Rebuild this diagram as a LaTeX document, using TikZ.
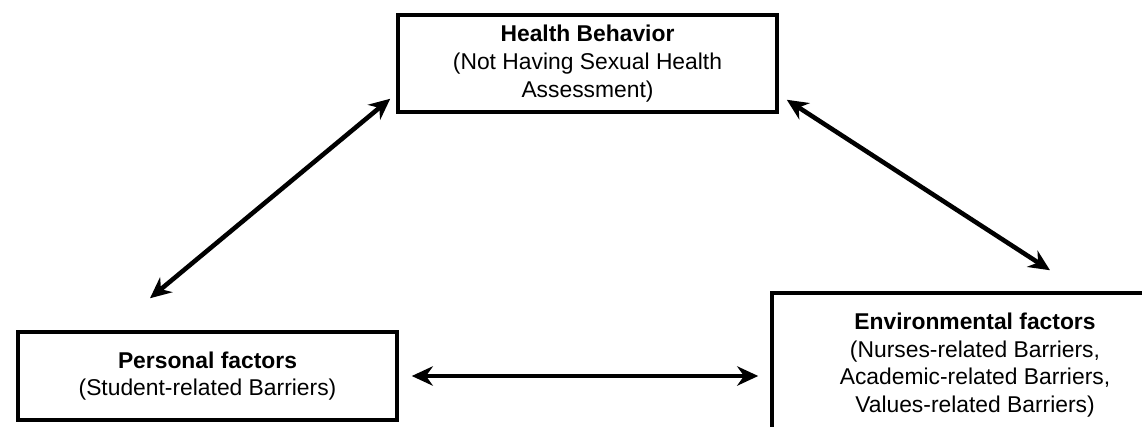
\documentclass[tikz,border=0pt]{standalone}
\usepackage{fontspec}
\setmainfont{Liberation Sans}
\usetikzlibrary{arrows.meta, positioning}
\tikzset{
>={Stealth[length=12pt, width=11pt]}, % solid arrow heads
factor/.style={draw=black, line width=2pt, align=center, inner sep=0pt,
  font=\fontsize{13}{15.8}\selectfont}, % every box
link/.style={<->, line width=2.6pt}, % every two-way arrow
}
\begin{document}
\begin{tikzpicture}[x=0.02cm, y=-0.02cm]
  \useasboundingbox (0,0) rectangle (1142,426);
  \clip (0,0) rectangle (1142,426);

  \node[factor, minimum width=379*0.02cm, minimum height=97*0.02cm] (behav) at (587.5,63.5)
    {\rule{0pt}{8pt}\textbf{Health Behavior}\\(Not Having Sexual Health\\Assessment)};
  \node[factor, minimum width=379*0.02cm, minimum height=88*0.02cm] (personal) at (207.5,376)
    {\textbf{Personal factors}\\(Student-related Barriers)};
  \node[factor, minimum width=406*0.02cm, minimum height=144*0.02cm] (env) at (975,365)
    {\textbf{Environmental factors}\\(Nurses-related Barriers,\\Academic-related Barriers,\\Values-related Barriers)};

  \draw[link] ([shift={(-6,-15)}]behav.south west) -- ([shift={(-57.5,-32)}]personal.north);
  \draw[link] ([shift={(8,-14)}]behav.south east) -- ([shift={(75,-21)}]env.north);
  \draw[link, shorten <=0.26cm, shorten >=0.24cm] (personal.east) -- (personal.east -| env.west);
\end{tikzpicture}
\end{document}
